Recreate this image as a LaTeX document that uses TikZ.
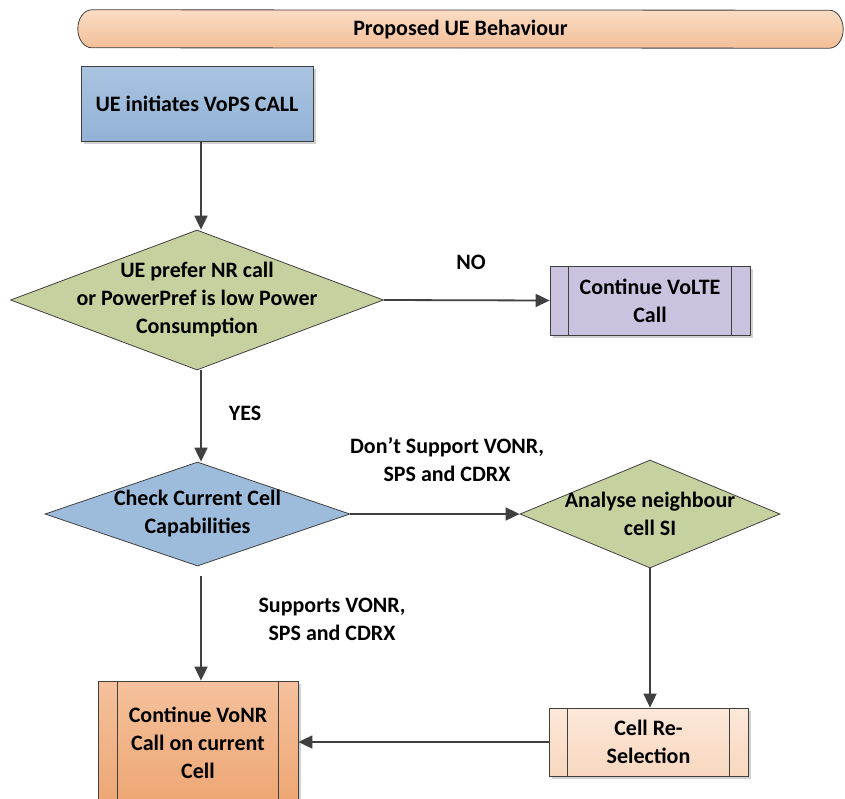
\documentclass[tikz,border=0pt]{standalone}
\usepackage{fontspec}
\setmainfont{Carlito}
\usetikzlibrary{shapes.geometric, arrows.meta, shadows}

\definecolor{edge}{HTML}{404040}
\definecolor{titleT}{HTML}{FBDCC4}
\definecolor{titleB}{HTML}{F2BF98}
\definecolor{blueT}{HTML}{A9C4E0}
\definecolor{blueB}{HTML}{93B2D6}
\definecolor{olive}{HTML}{C5D19E}
\definecolor{lavender}{HTML}{CBC2DF}
\definecolor{blueD}{HTML}{9DBBDB}
\definecolor{peachT}{HTML}{FCE8DA}
\definecolor{peachB}{HTML}{F8D7BE}
\definecolor{orangeT}{HTML}{F5C19C}
\definecolor{orangeB}{HTML}{EDA673}

\begin{document}
\begin{tikzpicture}[x=1pt, y=-1pt,
  font=\bfseries\fontsize{22}{28}\selectfont,
  box/.style={draw=edge, line width=0.8pt, inner sep=0pt, align=center,
    drop shadow={shadow xshift=3pt, shadow yshift=-3pt, fill=black, opacity=0.18}},
  dia/.style={diamond, draw=edge, line width=0.8pt, inner sep=0pt},
  txt/.style={align=center, inner sep=0pt},
  conn/.style={draw=edge, line width=1.8pt, -{Triangle[length=14pt, width=13pt]}},
  lbl/.style={align=center, inner sep=0pt}]

\clip (0,0) rectangle (845,798);
\fill[white] (0,0) rectangle (845,798);

% title banner with elliptical ends
\node[txt, minimum width=737pt, minimum height=38pt] (title) at (460.5,29) {};
\path[draw=edge, line width=0.8pt, top color=titleT, bottom color=titleB]
  (title.north west) arc[start angle=90, end angle=270, x radius=14pt, y radius=19pt]
  -- (title.south east) arc[start angle=-90, end angle=90, x radius=14pt, y radius=19pt]
  -- cycle;
\node[txt] at ([yshift=-1pt]title.center) {Proposed UE Behaviour};

% start box
\node[box, minimum width=232pt, minimum height=75pt, top color=blueT, bottom color=blueB]
  (start) at (197,103.5) {UE initiates VoPS CALL};

% first decision
\node[dia, minimum width=373pt, minimum height=140pt, fill=olive] (q1) at (197,300) {};
\node[txt] at (q1) {UE prefer NR call\\or PowerPref is low Power\\Consumption};

% VoLTE process box
\node[box, minimum width=200pt, minimum height=69pt, fill=lavender] (volte) at (650,300.5)
  {Continue VoLTE\\Call};
\draw[edge, line width=0.8pt] ([xshift=19pt]volte.north west) -- ([xshift=19pt]volte.south west)
  ([xshift=-19pt]volte.north east) -- ([xshift=-19pt]volte.south east);

% second decision
\node[dia, minimum width=305pt, minimum height=104pt, fill=blueD] (q2) at (197.5,514) {};
\node[txt] at (q2) {Check Current Cell\\Capabilities};

% third decision
\node[dia, minimum width=260pt, minimum height=108pt, fill=olive] (q3) at (650,514) {};
\node[txt] at (q3) {Analyse neighbour\\cell SI};

% cell re-selection process box
\node[box, minimum width=199pt, minimum height=68pt, top color=peachT, bottom color=peachB]
  (resel) at (648.5,742) {Cell Re-\\Selection};
\draw[edge, line width=0.8pt] ([xshift=19pt]resel.north west) -- ([xshift=19pt]resel.south west)
  ([xshift=-19pt]resel.north east) -- ([xshift=-19pt]resel.south east);

% VoNR process box
\node[box, minimum width=200pt, minimum height=124pt, top color=orangeT, bottom color=orangeB]
  (vonr) at (198,743) {Continue VoNR\\Call on current\\Cell};
\draw[edge, line width=0.8pt] ([xshift=20pt]vonr.north west) -- ([xshift=20pt]vonr.south west)
  ([xshift=-20pt]vonr.north east) -- ([xshift=-20pt]vonr.south east);

% connectors
\draw[conn] (start.south -| 201,0) -- (q1.north -| 201,0);
\draw[conn] (q1.east) -- (volte.west);
\draw[conn] (q1.south -| 201,0) -- (q2.north -| 201,0);
\draw[conn] (q2.east) -- (q3.west);
\draw[conn, shorten <=10pt] (q2.south -| 201,0) -- (vonr.north -| 201,0);
\draw[conn] (q3.south) -- (resel.north -| q3.south);
\draw[conn] (resel.west) -- (vonr.east |- resel.west);

% branch labels
\node[lbl] (no) at (471,262) {NO};
\node[lbl] (yes) at (245,413) {YES};
\node[lbl] (dont) at (447,460) {Don’t Support VONR,\\SPS and CDRX};
\node[lbl] (sup) at (332,619) {Supports VONR,\\SPS and CDRX};
\end{tikzpicture}
\end{document}
